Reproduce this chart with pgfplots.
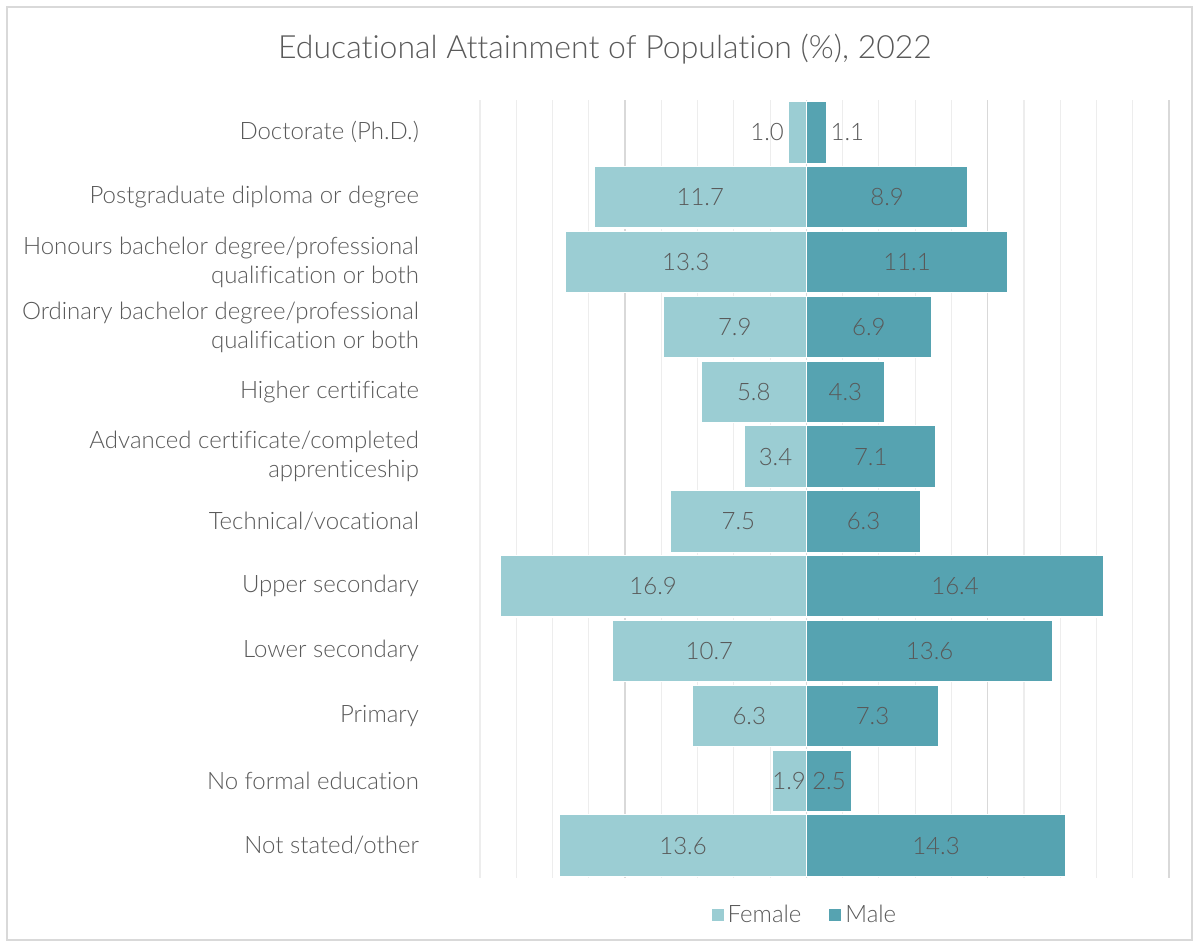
\documentclass[border=0pt]{standalone}
\usepackage{pgfplots}
\pgfplotsset{compat=1.18}
\usepackage{pgfplotstable}
\usepackage{fontspec}
\setmainfont{Lato Light}[Ligatures={NoCommon}]
\definecolor{fem}{HTML}{9BCDD3}
\definecolor{mal}{HTML}{56A3B1}
\definecolor{txt}{HTML}{595959}
\definecolor{gmaj}{HTML}{D9D9D9}
\definecolor{gmin}{HTML}{EDEDED}
\pgfplotstableread{
y f m fpos mpos flab mlab
11 -1.0 1.1 -0.5 0.55 1.0 1.1
10 -11.7 8.9 -5.85 4.45 11.7 8.9
9 -13.3 11.1 -6.65 5.55 13.3 11.1
8 -7.9 6.9 -3.95 3.45 7.9 6.9
7 -5.8 4.3 -2.9 2.15 5.8 4.3
6 -3.4 7.1 -1.7 3.55 3.4 7.1
5 -7.5 6.3 -3.75 3.15 7.5 6.3
4 -16.9 16.4 -8.45 8.2 16.9 16.4
3 -10.7 13.6 -5.35 6.8 10.7 13.6
2 -6.3 7.3 -3.15 3.65 6.3 7.3
1 -1.9 2.5 -0.95 1.25 1.9 2.5
0 -13.6 14.3 -6.8 7.15 13.6 14.3
}\data
\begin{document}
\begin{tikzpicture}
\path[use as bounding box] (0,0) rectangle (599.5pt,473.5pt);
\draw[gmaj, line width=0.8pt] (3.5pt,3.5pt) rectangle (596pt,470pt);
\node[text=txt, font=\fontsize{16}{19}\selectfont] at (302.5pt,449pt) {Educational Attainment of Population (\%), 2022};
\begin{axis}[
  at={(240pt,34.5pt)}, anchor=south west,
  scale only axis, width=344.5pt, height=389pt,
  xmin=-18, xmax=20, ymin=-0.5, ymax=11.5,
  xtick={-10,0,10,20}, minor xtick={-18,-16,...,18},
  xticklabels={}, 
  xmajorgrids, xminorgrids,
  major grid style={draw=gmaj, line width=0.6pt},
  minor grid style={draw=gmin, line width=0.6pt},
  axis line style={draw=none}, tick style={draw=none},
  ytick={0,...,11},
  yticklabels={Not stated/other, No formal education, Primary, Lower secondary, Upper secondary, Technical/vocational, {Advanced certificate/completed\\apprenticeship}, Higher certificate, {Ordinary bachelor degree/professional\\qualification or both}, {Honours bachelor degree/professional\\qualification or both}, Postgraduate diploma or degree, Doctorate (Ph.D.)},
  yticklabel style={align=right, xshift=-27pt, text=txt, font=\fontsize{12}{14.5}\selectfont},
  bar width=0.95,
  clip=false,
  legend columns=2,
  legend style={at={(0.473,-0.0476)}, anchor=center, draw=none, fill=none, font=\fontsize{12}{14}\selectfont, text=txt,
    /tikz/every even column/.append style={column sep=12pt}},
  legend image code/.code={\path[#1,draw=none] (0pt,-3pt) rectangle (6pt,3pt);},
]
\addplot[xbar, fill=fem, draw=white, line width=0.6pt, bar shift=0pt] table[x=f, y=y] {\data};
\addlegendentry{Female}
\addplot[xbar, fill=mal, draw=white, line width=0.6pt, bar shift=0pt] table[x=m, y=y] {\data};
\addlegendentry{Male}
\addplot[forget plot, only marks, mark=none, restrict y to domain=0:10, nodes near coords, point meta=explicit symbolic,
  nodes near coords style={anchor=center, text=txt, font=\fontsize{12}{14}\selectfont}] table[x=fpos, y=y, meta=flab] {\data};
\addplot[forget plot, only marks, mark=none, restrict y to domain=0:10, nodes near coords, point meta=explicit symbolic,
  nodes near coords style={anchor=center, text=txt, font=\fontsize{12}{14}\selectfont}] table[x=mpos, y=y, meta=mlab] {\data};
\addplot[forget plot, only marks, mark=none, nodes near coords, point meta=explicit symbolic,
  nodes near coords style={anchor=east, inner sep=2pt, text=txt, font=\fontsize{12}{14}\selectfont}] coordinates {(-1.0,11) [1.0]};
\addplot[forget plot, only marks, mark=none, nodes near coords, point meta=explicit symbolic,
  nodes near coords style={anchor=west, inner sep=2pt, text=txt, font=\fontsize{12}{14}\selectfont}] coordinates {(1.1,11) [1.1]};
\end{axis}
\end{tikzpicture}
\end{document}
